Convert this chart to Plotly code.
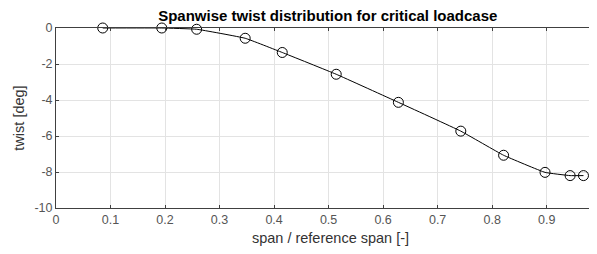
import plotly.graph_objects as go

span = [0.0857, 0.194, 0.258, 0.347, 0.415, 0.514, 0.628, 0.7425, 0.821, 0.897, 0.943, 0.9675]
twist = [0.0, 0.0, -0.07, -0.57, -1.36, -2.57, -4.13, -5.73, -7.07, -8.02, -8.2, -8.2]

xticks = [0, 0.1, 0.2, 0.3, 0.4, 0.5, 0.6, 0.7, 0.8, 0.9]
yticks = [0, -2, -4, -6, -8, -10]

axcol = "#404040"
fnt = "Liberation Sans, Arial, sans-serif"

fig = go.Figure()
fig.add_trace(go.Scatter(
    x=span, y=twist, mode="lines+markers",
    line=dict(color="black", width=1, shape="spline", smoothing=0.3),
    marker=dict(symbol="circle-open", size=10, color="black", line=dict(width=1)),
    showlegend=False, cliponaxis=False,
))

# page body has an 8px margin; margins compensate so the plot box lands where the reference has it
fig.update_layout(
    width=597, height=254,
    margin=dict(l=48, r=0, t=20, b=54, autoexpand=False),
    plot_bgcolor="white", paper_bgcolor="white",
    title=dict(text="<b>Spanwise twist distribution for critical loadcase</b>",
               xref="paper", x=0.495, xanchor="center", yref="container", y=1.0, yanchor="top",
               pad=dict(t=2),
               font=dict(family=fnt, size=15, color="black")),
    font=dict(family=fnt, size=12.5, color="#262626"),
)
fig.update_xaxes(
    range=[0, 1.007], tickvals=xticks, ticktext=[f"{v:g}" for v in xticks],
    showgrid=True, gridcolor="#e3e3e3", gridwidth=1,
    showline=True, linecolor=axcol, linewidth=1, mirror="ticks",
    ticks="inside", ticklen=3, tickcolor=axcol, zeroline=False,
    tickfont=dict(size=12.5, color="#555555"), automargin=False,
    title=dict(text="span / reference span [-]", font=dict(size=14.5, color="#333333"), standoff=6),
)
fig.update_yaxes(
    range=[-10, 0], tickvals=yticks, ticktext=[f"{v:g}" for v in yticks],
    showgrid=True, gridcolor="#e3e3e3", gridwidth=1,
    showline=True, linecolor=axcol, linewidth=1, mirror="ticks",
    ticks="inside", ticklen=3, tickcolor=axcol, zeroline=False,
    tickfont=dict(size=12.5, color="#555555"), automargin=False,
    title=dict(text="twist [deg]", font=dict(size=14.5, color="#333333"), standoff=6),
)

fig.write_html("out.html")
